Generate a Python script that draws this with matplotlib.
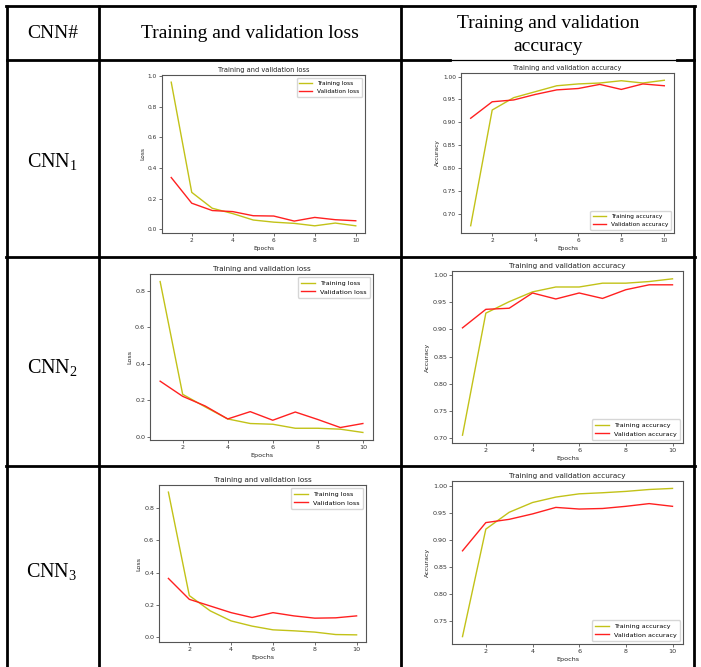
import numpy as np
import matplotlib.pyplot as plt

plt.rcParams['mathtext.fontset'] = 'custom'
plt.rcParams['mathtext.rm'] = 'Liberation Serif'
plt.rcParams['mathtext.it'] = 'Liberation Serif:italic'

W, H = 701, 667

epochs = np.arange(1, 11)

# CNN1
cnn1_train_loss = [0.962, 0.241, 0.137, 0.102, 0.060, 0.046, 0.038, 0.022, 0.040, 0.022]
cnn1_val_loss = [0.338, 0.170, 0.122, 0.115, 0.088, 0.086, 0.053, 0.077, 0.062, 0.055]
cnn1_train_acc = [0.674, 0.927, 0.954, 0.967, 0.980, 0.984, 0.986, 0.991, 0.986, 0.992]
cnn1_val_acc = [0.909, 0.945, 0.949, 0.961, 0.971, 0.974, 0.983, 0.972, 0.984, 0.980]

# CNN2
cnn2_train_loss = [0.851, 0.233, 0.164, 0.098, 0.073, 0.069, 0.047, 0.047, 0.042, 0.024]
cnn2_val_loss = [0.305, 0.222, 0.169, 0.098, 0.138, 0.091, 0.136, 0.095, 0.051, 0.073]
cnn2_train_acc = [0.706, 0.930, 0.951, 0.969, 0.978, 0.978, 0.985, 0.985, 0.988, 0.993]
cnn2_val_acc = [0.903, 0.937, 0.939, 0.967, 0.956, 0.967, 0.957, 0.973, 0.982, 0.982]

# CNN3
cnn3_train_loss = [0.896, 0.258, 0.164, 0.102, 0.070, 0.047, 0.041, 0.033, 0.018, 0.016]
cnn3_val_loss = [0.364, 0.235, 0.194, 0.153, 0.123, 0.153, 0.133, 0.119, 0.121, 0.133]
cnn3_train_acc = [0.722, 0.920, 0.951, 0.969, 0.979, 0.985, 0.987, 0.9895, 0.993, 0.995]
cnn3_val_acc = [0.880, 0.932, 0.938, 0.948, 0.960, 0.957, 0.958, 0.962, 0.967, 0.962]

row_names = ['CNN$_{1}$', 'CNN$_{2}$', 'CNN$_{3}$']
headers = ['CNN#', 'Training and validation loss', 'Training and validation\naccuracy']

fig = plt.figure(figsize=(W / 100, H / 100), dpi=100)

# table grid in pixel coords
bg = fig.add_axes([0, 0, 1, 1])
bg.set_xlim(0, W)
bg.set_ylim(H, 0)
bg.axis('off')

col_x = [7, 99, 401, 694]
row_y = [6, 60, 257, 466]
lw = 2.0
for x in col_x:
    bg.plot([x, x], [row_y[0] - 1, H], color='black', lw=lw, solid_capstyle='butt')
for i, y in enumerate(row_y):
    if i == 1:
        # the accuracy chart image half covers this line
        bg.plot([col_x[0], 450], [y, y], color='black', lw=lw)
        bg.plot([450, 677], [y - 0.5, y - 0.5], color='black', lw=0.9)
        bg.plot([677, col_x[-1]], [y, y], color='black', lw=lw)
    else:
        bg.plot([col_x[0] - 1, col_x[-1] + 1], [y, y], color='black', lw=lw)

serif = 'Liberation Serif'
bg.text(53, 33, headers[0], ha='center', va='center', fontsize=14, family=serif)
bg.text(250, 33, headers[1], ha='center', va='center', fontsize=14, family=serif)
bg.text(548, 35, headers[2], ha='center', va='center', fontsize=14, family=serif,
        linespacing=1.4)
for name, y in zip(row_names, [162, 367, 572]):
    bg.text(52, y, name, ha='center', va='center', fontsize=14.5, family=serif)


def add_chart(box, train, val, kind, fs):
    l, t, r, b = box
    ax = fig.add_axes([l / W, 1 - b / H, (r - l) / W, (b - t) / H])
    if kind == 'loss':
        ax.plot(epochs, train, color='#c2c218', lw=1.0, label='Training loss')
        ax.plot(epochs, val, color='#ff2020', lw=1.0, label='Validation loss')
        ax.set_title('Training and validation loss', fontsize=fs + 0.6, pad=2, color='#222')
        ax.set_ylabel('Loss', fontsize=fs, labelpad=2, color='#222')
        ax.legend(loc='upper right', fontsize=fs, handlelength=2.2, borderpad=0.5,
                  frameon=True, fancybox=True)
    else:
        ax.plot(epochs, train, color='#c2c218', lw=1.0, label='Training accuracy')
        ax.plot(epochs, val, color='#ff2020', lw=1.0, label='Validation accuracy')
        ax.set_title('Training and validation accuracy', fontsize=fs + 0.6, pad=2, color='#222')
        ax.set_ylabel('Accuracy', fontsize=fs, labelpad=2, color='#222')
        ax.legend(loc='lower right', fontsize=fs, handlelength=2.2, borderpad=0.5,
                  frameon=True, fancybox=True)
    ax.set_xlabel('Epochs', fontsize=fs, labelpad=2, color='#222')
    ax.set_xticks([2, 4, 6, 8, 10])
    ax.tick_params(labelsize=fs, length=2, width=0.5, pad=1.5, colors='#333')
    for sp in ax.spines.values():
        sp.set_linewidth(0.8)
        sp.set_color('#555')
    return ax


add_chart((162, 75, 365, 233), cnn1_train_loss, cnn1_val_loss, 'loss', 4.2)
add_chart((461, 73, 674, 233), cnn1_train_acc, cnn1_val_acc, 'acc', 4.2)
add_chart((150, 274, 373, 440), cnn2_train_loss, cnn2_val_loss, 'loss', 4.6)
add_chart((452, 271, 683, 443), cnn2_train_acc, cnn2_val_acc, 'acc', 4.6)
add_chart((159, 485, 366, 642), cnn3_train_loss, cnn3_val_loss, 'loss', 4.6)
add_chart((452, 481, 683, 644), cnn3_train_acc, cnn3_val_acc, 'acc', 4.6)

fig.savefig('out.png', dpi=100)
